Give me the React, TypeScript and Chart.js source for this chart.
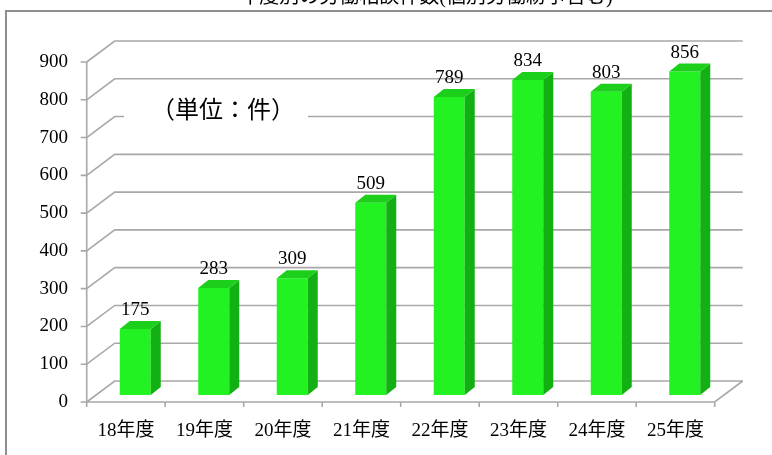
import React, { useEffect, useRef } from "react";
import { Chart, registerables } from "chart.js";

Chart.register(...registerables);

const categories = ["18年度", "19年度", "20年度", "21年度", "22年度", "23年度", "24年度", "25年度"];
const values = [175, 283, 309, 509, 789, 834, 803, 856];
const yTicks = [0, 100, 200, 300, 400, 500, 600, 700, 800, 900];
const titleText = "年度別の労働相談件数(個別労働紛争含む)";
const unitText = "（単位：件）";

const FONT = "'Liberation Serif', 'Noto Sans CJK JP', serif";
const DX_F = -9.3;
const DY_F = 7;
const DX_B = 18.7;
const DY_B = -14;

const threeD = {
  id: "threeD",
  beforeDatasetsDraw(chart: any) {
    const ctx = chart.ctx;
    const { left, right } = chart.chartArea;
    const ys = chart.scales.y;
    const xs = chart.scales.x;
    ctx.save();
    // frame
    ctx.strokeStyle = "#8e8e8e";
    ctx.lineWidth = 2;
    ctx.beginPath();
    ctx.moveTo(6, 470);
    ctx.lineTo(6, 11);
    ctx.lineTo(790, 11);
    ctx.stroke();
    // title (cut off)
    ctx.fillStyle = "#000";
    ctx.font = "20px " + FONT;
    ctx.textAlign = "center";
    ctx.textBaseline = "alphabetic";
    ctx.fillText(titleText, 426, 3);

    // gridlines
    ctx.strokeStyle = "#a8a8a8";
    ctx.lineWidth = 1.6;
    for (const v of yTicks) {
      const y = ys.getPixelForValue(v);
      ctx.beginPath();
      ctx.moveTo(left + DX_F, y + DY_F);
      ctx.lineTo(left + DX_B, y + DY_B);
      ctx.lineTo(right + DX_B, y + DY_B);
      ctx.stroke();
    }
    const y0 = ys.getPixelForValue(0);
    const yTop = ys.getPixelForValue(yTicks[yTicks.length - 1]);
    // front vertical axis
    ctx.beginPath();
    ctx.moveTo(left + DX_F, yTop + DY_F);
    ctx.lineTo(left + DX_F, y0 + DY_F);
    for (const v of yTicks) {
      const y = ys.getPixelForValue(v) + DY_F;
      ctx.moveTo(left + DX_F - 6, y);
      ctx.lineTo(left + DX_F, y);
    }
    // floor
    ctx.moveTo(left + DX_F, y0 + DY_F);
    ctx.lineTo(right + DX_F, y0 + DY_F);
    ctx.lineTo(right + DX_B, y0 + DY_B);
    const n = categories.length;
    const cw = (right - left) / n;
    for (let i = 0; i <= n; i++) {
      const x = left + i * cw + DX_F;
      ctx.moveTo(x, y0 + DY_F);
      ctx.lineTo(x, y0 + DY_F + 5);
    }
    ctx.stroke();

    // y labels
    ctx.fillStyle = "#000";
    ctx.font = "19px " + FONT;
    ctx.textAlign = "right";
    ctx.textBaseline = "middle";
    for (const v of yTicks) {
      ctx.fillText(String(v), 68, ys.getPixelForValue(v) + DY_F);
    }
    // x labels
    ctx.textAlign = "center";
    categories.forEach((c, i) => {
      ctx.fillText(c, xs.getPixelForValue(i) + DX_F, 431);
    });

    // unit label
    ctx.fillStyle = "#fff";
    ctx.fillRect(124, 95, 184, 30);
    ctx.fillStyle = "#000";
    ctx.font = "24px 'Noto Sans CJK JP', sans-serif";
    ctx.textAlign = "center";
    ctx.textBaseline = "middle";
    ctx.fillText(unitText, 223, 109);
    ctx.restore();
  },
  afterDatasetsDraw(chart: any) {
    const ctx = chart.ctx;
    const meta = chart.getDatasetMeta(0);
    ctx.save();
    meta.data.forEach((bar: any, i: number) => {
      const { x, y, base, width } = bar.getProps(["x", "y", "base", "width"], true);
      const l = x - width / 2;
      const r = x + width / 2;
      ctx.fillStyle = "#13b013";
      ctx.beginPath();
      ctx.moveTo(r, y);
      ctx.lineTo(r + 10, y - 8);
      ctx.lineTo(r + 10, base - 8);
      ctx.lineTo(r, base);
      ctx.closePath();
      ctx.fill();
      ctx.fillStyle = "#1bcf1b";
      ctx.beginPath();
      ctx.moveTo(l, y);
      ctx.lineTo(l + 10, y - 8);
      ctx.lineTo(r + 10, y - 8);
      ctx.lineTo(r, y);
      ctx.closePath();
      ctx.fill();
      ctx.fillStyle = "#000";
      ctx.font = "19px " + FONT;
      ctx.textAlign = "center";
      ctx.textBaseline = "alphabetic";
      ctx.fillText(String(values[i]), x, y - 14);
    });
    ctx.restore();
  },
};

export default function App() {
  const ref = useRef<HTMLCanvasElement | null>(null);
  useEffect(() => {
    if (!ref.current) return;
    const chart = new Chart(ref.current, {
      type: "bar",
      data: {
        labels: categories,
        datasets: [
          {
            data: values,
            backgroundColor: "#22f222",
            borderWidth: 0,
            categoryPercentage: 1,
            barPercentage: 0.395,
          },
        ],
      },
      options: {
        animation: false,
        responsive: false,
        maintainAspectRatio: false,
        layout: { padding: { left: 96, right: 48, top: 55, bottom: 60 } },
        scales: {
          x: { display: false },
          y: { display: false, min: 0, max: 900 },
        },
        plugins: { legend: { display: false }, tooltip: { enabled: false } },
      },
      plugins: [threeD],
    });
    return () => chart.destroy();
  }, []);
  return (
    <div style={{ position: "fixed", left: 0, top: 0, width: 772, height: 455, background: "#fff" }}>
      <canvas ref={ref} width={772} height={455} style={{ display: "block" }} />
    </div>
  );
}
